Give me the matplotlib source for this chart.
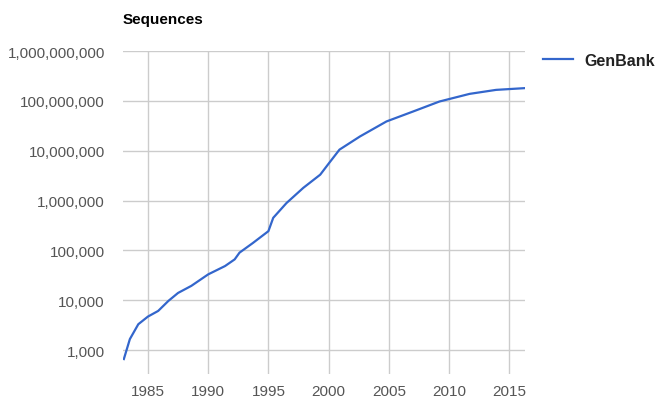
import matplotlib
matplotlib.use("Agg")
import matplotlib.pyplot as plt
from matplotlib.ticker import FixedLocator, FuncFormatter

plt.rcParams["font.family"] = ["Liberation Sans", "DejaVu Sans"]

# GenBank sequence counts
years = [1983.0, 1983.5, 1984.2, 1985.0, 1985.85, 1986.7, 1987.5, 1988.6,
         1990.0, 1991.4, 1992.2, 1992.6, 1993.7, 1995.0, 1995.4, 1996.5,
         1997.9, 1999.3, 2000.0, 2000.9, 2002.6, 2004.8, 2007.0, 2009.2,
         2011.7, 2013.9, 2016.3]
sequences = [660, 1660, 3300, 4700, 6100, 9700, 14000, 19400,
             33000, 48500, 66000, 90000, 140000, 243000, 450000, 890000,
             1.8e6, 3.3e6, 5.5e6, 10.5e6, 19.3e6, 38.6e6, 61e6, 97e6,
             138e6, 166e6, 180e6]

x_ticks = [1985, 1990, 1995, 2000, 2005, 2010, 2015]
y_ticks = [1e3, 1e4, 1e5, 1e6, 1e7, 1e8, 1e9]

W, H = 656, 402
fig = plt.figure(figsize=(W / 100, H / 100), dpi=100)
ax = fig.add_axes([123 / W, 1 - 375 / H, (525 - 123) / W, (375 - 52) / H])

ax.plot(years, sequences, color="#3366cc", linewidth=1.6, label="GenBank")

ax.set_yscale("log")
ax.set_ylim(10 ** 2.52, 1e9)
ax.set_xlim(1982.93, 2016.3)
ax.yaxis.set_major_locator(FixedLocator(y_ticks))
ax.yaxis.set_minor_locator(FixedLocator([]))
ax.yaxis.set_major_formatter(FuncFormatter(lambda v, p: f"{int(round(v)):,}"))
ax.set_xticks(x_ticks)

ax.grid(True, color="#cccccc", linewidth=1)
ax.set_axisbelow(True)
for s in ax.spines.values():
    s.set_visible(False)
ax.tick_params(length=0, labelsize=11, colors="#555555")
ax.tick_params(axis="y", pad=13)
ax.tick_params(axis="x", pad=7)

fig.text(123 / W, 1 - 20 / H, "Sequences", fontsize=11, fontweight="bold",
         color="#000000", ha="left", va="center")

ax.legend(loc="center left", bbox_to_anchor=(543 / W, 1 - 61 / H),
          bbox_transform=fig.transFigure, frameon=False, borderpad=0,
          borderaxespad=0, handlelength=1.9, handletextpad=0.7,
          prop={"size": 11.5, "weight": "bold"}, labelcolor="#222222")

fig.savefig("out.png", dpi=100)
